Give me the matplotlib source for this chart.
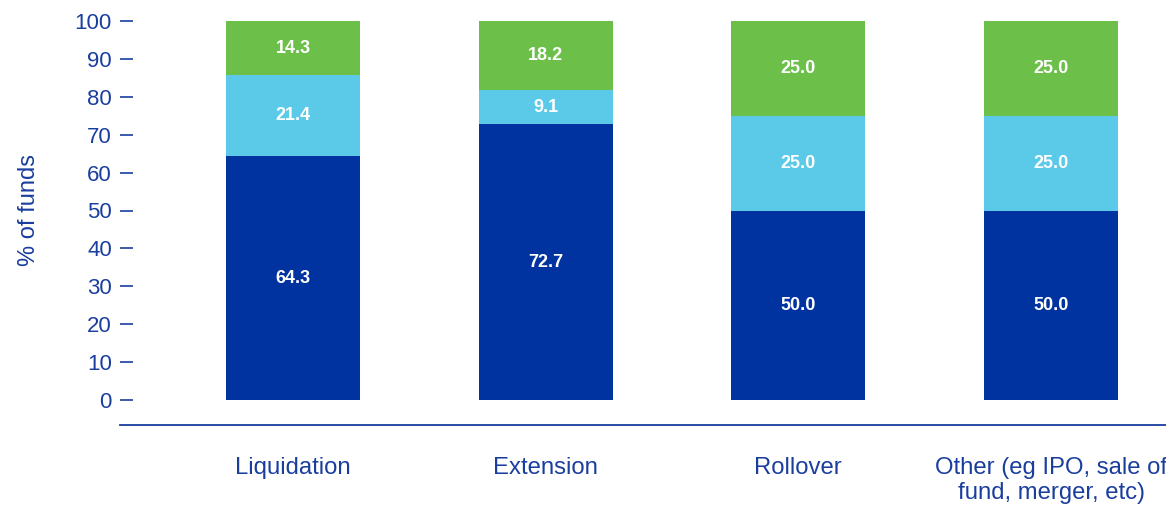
import matplotlib
matplotlib.use("Agg")
import matplotlib.pyplot as plt
from matplotlib.lines import Line2D

plt.rcParams['font.family'] = ['Liberation Sans', 'DejaVu Sans']

categories = ["Liquidation", "Extension", "Rollover", "Other (eg IPO, sale of\nfund, merger, etc)"]
bottom_vals = [64.3, 72.7, 50.0, 50.0]
middle_vals = [21.4, 9.1, 25.0, 25.0]
top_vals = [14.3, 18.2, 25.0, 25.0]
yticks = [0, 10, 20, 30, 40, 50, 60, 70, 80, 90, 100]

c_dark = "#0033A0"
c_light = "#5BC9E8"
c_green = "#6CC04A"
txt = "#1A3E9E"

W, H = 1166, 505
fig = plt.figure(figsize=(W / 100, H / 100), dpi=100)
left_px, right_px, top_px, bot_px = 133, 1166, 21, 400
ax = fig.add_axes([left_px / W, 1 - bot_px / H, (right_px - left_px) / W, (bot_px - top_px) / H])

x = list(range(len(categories)))
spacing = 252.67
ax.set_xlim((left_px - 293) / spacing, (right_px - 293) / spacing)
ax.set_ylim(0, 100)
width = 134 / spacing

b1 = ax.bar(x, bottom_vals, width, color=c_dark)
b2 = ax.bar(x, middle_vals, width, bottom=bottom_vals, color=c_light)
bot2 = [a + b for a, b in zip(bottom_vals, middle_vals)]
b3 = ax.bar(x, top_vals, width, bottom=bot2, color=c_green)

for bars, vals, bots in [(b1, bottom_vals, [0] * 4), (b2, middle_vals, bottom_vals), (b3, top_vals, bot2)]:
    for xi, v, b in zip(x, vals, bots):
        ax.text(xi, b + v / 2, f"{v:.1f}", ha="center", va="center", color="white",
                fontsize=13, fontweight="bold")

for s in ax.spines.values():
    s.set_visible(False)
ax.set_yticks(yticks)
ax.set_yticklabels([str(t) for t in yticks])
ax.tick_params(axis="y", direction="out", length=9.4, width=1.2, color=txt, labelcolor=txt,
               labelsize=16, pad=5.8)
ax.set_xticks([])
ax.set_ylabel("% of funds", color=txt, fontsize=17)
ax.yaxis.set_label_coords((40 - left_px) / (right_px - left_px), 0.5)

# baseline rule
fig.add_artist(Line2D([120 / W, 1.0], [1 - 425 / H, 1 - 425 / H], color=txt, lw=1.3))

for xi, lab in zip(x, categories):
    xf = (293 + xi * spacing) / W
    fig.text(xf, 1 - 457 / H, lab, ha="center", va="top", color=txt, fontsize=17.2,
             linespacing=1.2)

fig.savefig("out.png", dpi=100)
